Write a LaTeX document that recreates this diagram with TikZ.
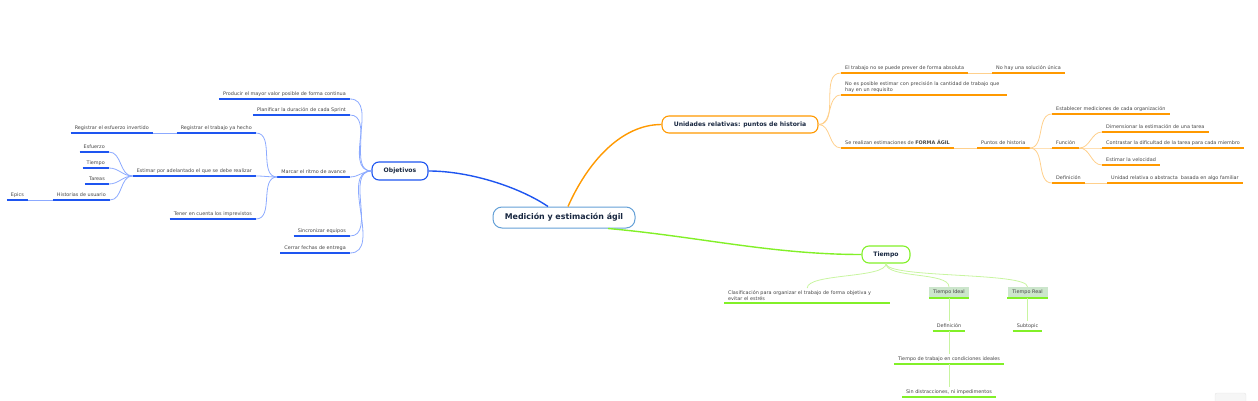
\documentclass[tikz,border=0pt]{standalone}
\usepackage{fontspec}
\setmainfont{DejaVu Sans}
\definecolor{blueU}{RGB}{30,85,240}
\definecolor{blueL}{RGB}{140,170,255}
\definecolor{orU}{RGB}{255,153,0}
\definecolor{orL}{RGB}{255,208,140}
\definecolor{grU}{RGB}{130,240,40}
\definecolor{grL}{RGB}{200,245,160}
\definecolor{leaftext}{RGB}{70,70,70}
\definecolor{titletext}{RGB}{25,40,65}
\definecolor{cenborder}{RGB}{100,160,215}
\definecolor{boxfill}{RGB}{204,230,204}
\begin{document}
\begin{tikzpicture}[x=1pt,y=-1pt,
  leaf/.style={font=\fontsize{4.9}{5.9}\selectfont, text=leaftext, inner xsep=4pt, inner ysep=2.3pt},
  one/.style={text height=3.6pt, text depth=1pt},
  ulB/.style={leaf, append after command={(\tikzlastnode.south west) edge[draw=blueU, line width=1.5pt] (\tikzlastnode.south east)}},
  ulO/.style={leaf, append after command={(\tikzlastnode.south west) edge[draw=orU, line width=1.5pt] (\tikzlastnode.south east)}},
  ulG/.style={leaf, append after command={(\tikzlastnode.south west) edge[draw=grU, line width=1.5pt] (\tikzlastnode.south east)}},
  gbox/.style={ulG, one, fill=boxfill, minimum width=40pt, minimum height=11pt, inner ysep=1pt},
  topic/.style={draw, line width=1.1pt, fill=white, rounded corners=7pt, text=titletext, font=\fontsize{6.1}{7}\selectfont\bfseries},
  cB/.style={draw=blueL, line width=0.8pt},
  cO/.style={draw=orL, line width=0.8pt},
  cG/.style={draw=grL, line width=0.8pt},
]
\useasboundingbox (0,0) rectangle (1258,401);

% central and main topics
\node[draw=cenborder, line width=1pt, fill=white, rounded corners=9pt, minimum width=142pt, minimum height=21pt, text=titletext, font=\fontsize{7.9}{9}\selectfont\bfseries] (cen) at (564,217.5) {Medición y estimación ágil};
\node[topic, draw=blueU, minimum width=56pt, minimum height=18pt] (obj) at (400,171) {Objetivos};
\node[topic, draw=orU, minimum width=156pt, minimum height=17pt] (uni) at (740,124.5) {Unidades relativas: puntos de historia};
\node[topic, draw=grU, minimum width=48pt, minimum height=17pt] (tie) at (886,254.5) {Tiempo};

% main connectors
\draw[draw=blueU, line width=1.4pt] ([xshift=-16pt]cen.north) .. controls +(-28,-19) and +(42,0) .. (obj.east);
\draw[draw=orU, line width=1.4pt] ([xshift=4pt]cen.north) .. controls +(20,-45) and +(-40,0) .. (uni.west);
\draw[draw=grU, line width=1.4pt] ([xshift=44pt]cen.south) .. controls +(90,8) and +(-90,0) .. (tie.west);

% Objetivos branch
\node[ulB, one, anchor=south east] (prod) at (350,99) {Producir el mayor valor posible de forma continua};
\node[ulB, one, anchor=south east] (plan) at (350,115) {Planificar la duración de cada Sprint};
\node[ulB, one, anchor=south east] (marc) at (350,177) {Marcar el ritmo de avance};
\node[ulB, one, anchor=south east] (sinc) at (350,236) {Sincronizar equipos};
\node[ulB, one, anchor=south east] (cerr) at (350,253) {Cerrar fechas de entrega};
\node[ulB, one, anchor=south east] (regT) at (256,133) {Registrar el trabajo ya hecho};
\node[ulB, one, anchor=south east] (regE) at (153,133) {Registrar el esfuerzo invertido};
\node[ulB, one, anchor=south east] (estim) at (256,176) {Estimar por adelantado el que se debe realizar};
\node[ulB, one, anchor=south east] (tener) at (256,219) {Tener en cuenta los imprevistos};
\node[ulB, one, anchor=south east] (esf) at (109,152) {Esfuerzo};
\node[ulB, one, anchor=south east] (tiem) at (109,168) {Tiempo};
\node[ulB, one, anchor=south east] (tar) at (109,184) {Tareas};
\node[ulB, one, anchor=south east] (hist) at (110,200) {Historias de usuario};
\node[ulB, one, anchor=south east] (epic) at (28,200) {Epics};

\foreach \n in {prod,plan,marc,sinc,cerr} \draw[cB] (obj.west) to[out=180,in=0] (\n.south east);
\foreach \n in {regT,estim,tener} \draw[cB] (marc.south west) to[out=180,in=0] (\n.south east);
\foreach \n in {esf,tiem,tar,hist} \draw[cB] (estim.south west) to[out=180,in=0] (\n.south east);
\draw[cB] (regT.south west) -- (regE.south east);
\draw[cB] (hist.south west) -- (epic.south east);

% Unidades branch
\node[ulO, one, anchor=south west] (trab) at (841,73) {El trabajo no se puede prever de forma absoluta};
\node[ulO, one, anchor=south west] (nohay) at (992,73) {No hay una solución única};
\node[ulO, anchor=south west, text width=158pt, align=left] (nopos) at (841,95) {No es posible estimar con precisión la cantidad de trabajo que\\hay en un requisito};
\node[ulO, one, anchor=south west] (serea) at (841,148) {Se realizan estimaciones de \textbf{FORMA ÁGIL}};
\node[ulO, one, anchor=south west] (punt) at (977,148) {Puntos de historia};
\node[ulO, one, anchor=south west] (estab) at (1052,114) {Establecer mediciones de cada organización};
\node[ulO, one, anchor=south west] (func) at (1052,148) {Función};
\node[ulO, one, anchor=south west] (defi) at (1052,183) {Definición};
\node[ulO, one, anchor=south west] (dimen) at (1102,132) {Dimensionar la estimación de una tarea};
\node[ulO, one, anchor=south west] (contr) at (1102,148) {Contrastar la dificultad de la tarea para cada miembro};
\node[ulO, one, anchor=south west] (estv) at (1102,165) {Estimar la velocidad};
\node[ulO, one, anchor=south west] (unid) at (1107,183) {Unidad relativa o abstracta~ basada en algo familiar};

\foreach \n in {trab,nopos,serea} \draw[cO] (uni.east) to[out=0,in=180] (\n.south west);
\foreach \n in {estab,func,defi} \draw[cO] (punt.south east) to[out=0,in=180] (\n.south west);
\foreach \n in {dimen,contr,estv} \draw[cO] (func.south east) to[out=0,in=180] (\n.south west);
\draw[cO] (trab.south east) -- (nohay.south west);
\draw[cO] (serea.south east) -- (punt.south west);
\draw[cO] (defi.south east) -- (unid.south west);

% Tiempo branch
\node[ulG, anchor=south west, text width=158pt, align=left] (clas) at (724,303) {Clasificación para organizar el trabajo de forma objetiva y\\evitar el estrés};
\node[gbox] (tid) at (949,292.5) {Tiempo Ideal};
\node[gbox] (treal) at (1027.5,292.5) {Tiempo Real};
\node[ulG, one, anchor=south] (def2) at (949,331) {Definición};
\node[ulG, one, anchor=south] (ttc) at (949,364) {Tiempo de trabajo en condiciones ideales};
\node[ulG, one, anchor=south] (sin) at (949,397) {Sin distracciones, ni impedimentos};
\node[ulG, one, anchor=south] (sub) at (1027.5,331) {Subtopic};

\draw[cG] (tie.south) .. controls +(0,15) and +(0,-15) .. (clas.north);
\draw[cG] (tie.south) .. controls +(0,15) and +(0,-15) .. (tid.north);
\draw[cG] (tie.south) .. controls +(0,15) and +(0,-15) .. (treal.north);
\draw[cG] (tid.south) -- (def2.north);
\draw[cG] (def2.south) -- (ttc.north);
\draw[cG] (ttc.south) -- (sin.north);
\draw[cG] (treal.south) -- (sub.north);

% corner control
\draw[draw=gray!20, fill=gray!7, rounded corners=2pt] (1215,393) rectangle (1246,410);
\end{tikzpicture}
\end{document}
